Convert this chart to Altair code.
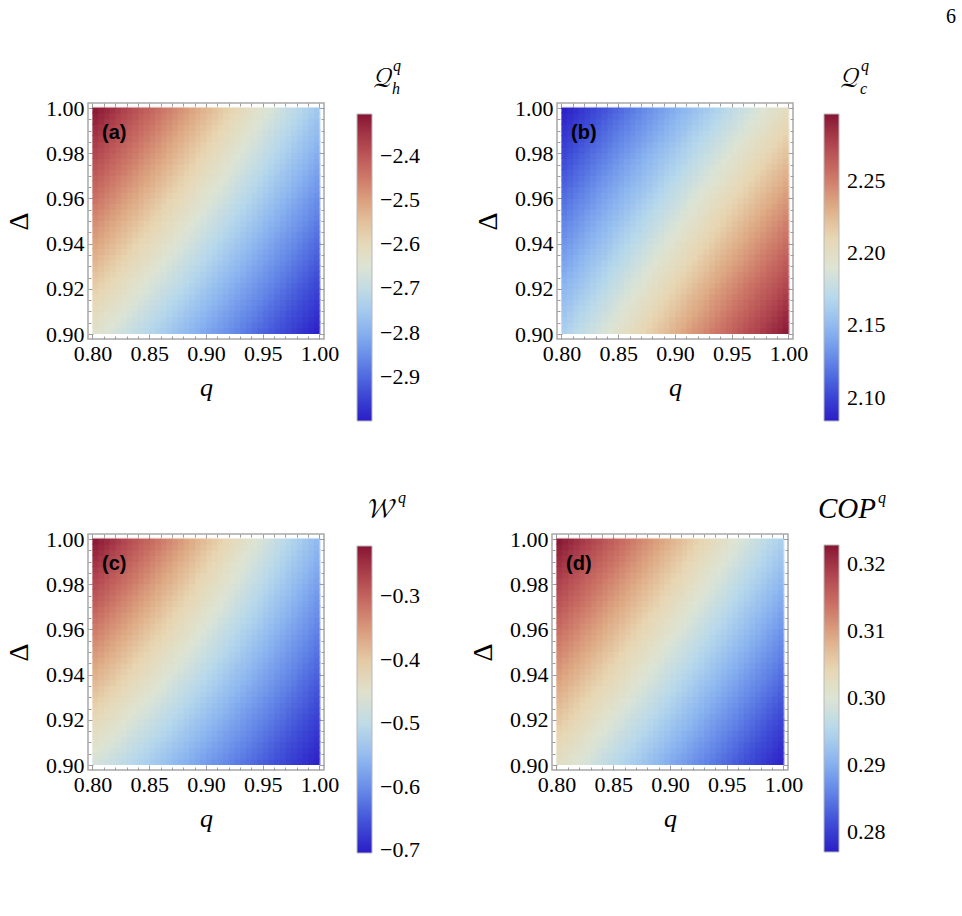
import altair as alt
import pandas as pd

SERIF = "Liberation Serif"
SANS = "Liberation Sans"
MATH = "Latin Modern Math, STIX Two Math, DejaVu Math TeX Gyre, DejaVu Serif, serif"

# grid nodes
q_vals = [0.80, 0.81, 0.82, 0.83, 0.84, 0.85, 0.86, 0.87, 0.88, 0.89, 0.90,
          0.91, 0.92, 0.93, 0.94, 0.95, 0.96, 0.97, 0.98, 0.99, 1.00]
delta_vals = [0.900, 0.905, 0.910, 0.915, 0.920, 0.925, 0.930, 0.935, 0.940, 0.945, 0.950,
              0.955, 0.960, 0.965, 0.970, 0.975, 0.980, 0.985, 0.990, 0.995, 1.000]

# one row per Delta (ascending), columns follow q_vals
qh_rows = [
    [-2.635, -2.653, -2.672, -2.690, -2.708, -2.726, -2.745, -2.763, -2.781, -2.799, -2.818, -2.836, -2.854, -2.872, -2.891, -2.909, -2.927, -2.945, -2.964, -2.982, -3.000],
    [-2.618, -2.637, -2.655, -2.674, -2.692, -2.711, -2.729, -2.748, -2.766, -2.785, -2.803, -2.822, -2.840, -2.859, -2.877, -2.896, -2.914, -2.933, -2.951, -2.970, -2.988],
    [-2.602, -2.621, -2.639, -2.658, -2.677, -2.696, -2.714, -2.733, -2.752, -2.770, -2.789, -2.808, -2.826, -2.845, -2.864, -2.883, -2.901, -2.920, -2.939, -2.957, -2.976],
    [-2.586, -2.604, -2.623, -2.642, -2.661, -2.680, -2.699, -2.718, -2.737, -2.756, -2.775, -2.794, -2.813, -2.832, -2.850, -2.869, -2.888, -2.907, -2.926, -2.945, -2.964],
    [-2.569, -2.588, -2.607, -2.626, -2.646, -2.665, -2.684, -2.703, -2.722, -2.741, -2.761, -2.780, -2.799, -2.818, -2.837, -2.856, -2.875, -2.895, -2.914, -2.933, -2.952],
    [-2.553, -2.572, -2.591, -2.611, -2.630, -2.649, -2.669, -2.688, -2.708, -2.727, -2.746, -2.766, -2.785, -2.804, -2.824, -2.843, -2.863, -2.882, -2.901, -2.921, -2.940],
    [-2.536, -2.556, -2.575, -2.595, -2.614, -2.634, -2.654, -2.673, -2.693, -2.712, -2.732, -2.752, -2.771, -2.791, -2.810, -2.830, -2.850, -2.869, -2.889, -2.908, -2.928],
    [-2.520, -2.539, -2.559, -2.579, -2.599, -2.619, -2.638, -2.658, -2.678, -2.698, -2.718, -2.738, -2.757, -2.777, -2.797, -2.817, -2.837, -2.857, -2.876, -2.896, -2.916],
    [-2.503, -2.523, -2.543, -2.563, -2.583, -2.603, -2.623, -2.643, -2.663, -2.683, -2.704, -2.724, -2.744, -2.764, -2.784, -2.804, -2.824, -2.844, -2.864, -2.884, -2.904],
    [-2.487, -2.507, -2.527, -2.547, -2.568, -2.588, -2.608, -2.628, -2.649, -2.669, -2.689, -2.710, -2.730, -2.750, -2.770, -2.791, -2.811, -2.831, -2.851, -2.872, -2.892],
    [-2.470, -2.491, -2.511, -2.532, -2.552, -2.573, -2.593, -2.614, -2.634, -2.655, -2.675, -2.696, -2.716, -2.737, -2.757, -2.778, -2.798, -2.819, -2.839, -2.860, -2.880],
    [-2.454, -2.474, -2.495, -2.516, -2.536, -2.557, -2.578, -2.599, -2.619, -2.640, -2.661, -2.681, -2.702, -2.723, -2.744, -2.764, -2.785, -2.806, -2.827, -2.847, -2.868],
    [-2.437, -2.458, -2.479, -2.500, -2.521, -2.542, -2.563, -2.584, -2.605, -2.626, -2.647, -2.667, -2.688, -2.709, -2.730, -2.751, -2.772, -2.793, -2.814, -2.835, -2.856],
    [-2.421, -2.442, -2.463, -2.484, -2.505, -2.526, -2.548, -2.569, -2.590, -2.611, -2.632, -2.653, -2.675, -2.696, -2.717, -2.738, -2.759, -2.780, -2.802, -2.823, -2.844],
    [-2.404, -2.425, -2.447, -2.468, -2.490, -2.511, -2.532, -2.554, -2.575, -2.597, -2.618, -2.639, -2.661, -2.682, -2.704, -2.725, -2.746, -2.768, -2.789, -2.811, -2.832],
    [-2.388, -2.409, -2.431, -2.452, -2.474, -2.496, -2.517, -2.539, -2.561, -2.582, -2.604, -2.625, -2.647, -2.669, -2.690, -2.712, -2.734, -2.755, -2.777, -2.798, -2.820],
    [-2.371, -2.393, -2.415, -2.437, -2.458, -2.480, -2.502, -2.524, -2.546, -2.568, -2.590, -2.611, -2.633, -2.655, -2.677, -2.699, -2.721, -2.742, -2.764, -2.786, -2.808],
    [-2.355, -2.377, -2.399, -2.421, -2.443, -2.465, -2.487, -2.509, -2.531, -2.553, -2.575, -2.597, -2.619, -2.641, -2.664, -2.686, -2.708, -2.730, -2.752, -2.774, -2.796],
    [-2.338, -2.360, -2.383, -2.405, -2.427, -2.449, -2.472, -2.494, -2.516, -2.539, -2.561, -2.583, -2.606, -2.628, -2.650, -2.672, -2.695, -2.717, -2.739, -2.762, -2.784],
    [-2.322, -2.344, -2.367, -2.389, -2.412, -2.434, -2.457, -2.479, -2.502, -2.524, -2.547, -2.569, -2.592, -2.614, -2.637, -2.659, -2.682, -2.704, -2.727, -2.749, -2.772],
    [-2.305, -2.328, -2.351, -2.373, -2.396, -2.419, -2.442, -2.464, -2.487, -2.510, -2.533, -2.555, -2.578, -2.601, -2.624, -2.646, -2.669, -2.692, -2.715, -2.737, -2.760],
]

qc_rows = [
    [2.164, 2.171, 2.177, 2.184, 2.190, 2.197, 2.204, 2.210, 2.217, 2.223, 2.230, 2.237, 2.243, 2.250, 2.256, 2.263, 2.270, 2.276, 2.283, 2.289, 2.296],
    [2.160, 2.167, 2.173, 2.180, 2.186, 2.193, 2.199, 2.206, 2.213, 2.219, 2.226, 2.232, 2.239, 2.245, 2.252, 2.259, 2.265, 2.272, 2.278, 2.285, 2.291],
    [2.156, 2.163, 2.169, 2.176, 2.182, 2.189, 2.195, 2.202, 2.208, 2.215, 2.221, 2.228, 2.234, 2.241, 2.247, 2.254, 2.261, 2.267, 2.274, 2.280, 2.287],
    [2.152, 2.158, 2.165, 2.172, 2.178, 2.185, 2.191, 2.198, 2.204, 2.211, 2.217, 2.224, 2.230, 2.237, 2.243, 2.250, 2.256, 2.263, 2.269, 2.276, 2.282],
    [2.148, 2.154, 2.161, 2.167, 2.174, 2.180, 2.187, 2.193, 2.200, 2.206, 2.213, 2.219, 2.226, 2.232, 2.239, 2.245, 2.252, 2.258, 2.264, 2.271, 2.277],
    [2.144, 2.150, 2.157, 2.163, 2.170, 2.176, 2.183, 2.189, 2.196, 2.202, 2.208, 2.215, 2.221, 2.228, 2.234, 2.241, 2.247, 2.253, 2.260, 2.266, 2.273],
    [2.140, 2.146, 2.153, 2.159, 2.166, 2.172, 2.178, 2.185, 2.191, 2.198, 2.204, 2.210, 2.217, 2.223, 2.230, 2.236, 2.242, 2.249, 2.255, 2.262, 2.268],
    [2.136, 2.142, 2.149, 2.155, 2.161, 2.168, 2.174, 2.181, 2.187, 2.193, 2.200, 2.206, 2.212, 2.219, 2.225, 2.232, 2.238, 2.244, 2.251, 2.257, 2.263],
    [2.132, 2.138, 2.145, 2.151, 2.157, 2.164, 2.170, 2.176, 2.183, 2.189, 2.195, 2.202, 2.208, 2.214, 2.221, 2.227, 2.233, 2.240, 2.246, 2.252, 2.259],
    [2.128, 2.134, 2.141, 2.147, 2.153, 2.160, 2.166, 2.172, 2.178, 2.185, 2.191, 2.197, 2.204, 2.210, 2.216, 2.223, 2.229, 2.235, 2.242, 2.248, 2.254],
    [2.124, 2.130, 2.137, 2.143, 2.149, 2.155, 2.162, 2.168, 2.174, 2.180, 2.187, 2.193, 2.199, 2.206, 2.212, 2.218, 2.224, 2.231, 2.237, 2.243, 2.250],
    [2.120, 2.126, 2.132, 2.139, 2.145, 2.151, 2.157, 2.164, 2.170, 2.176, 2.182, 2.189, 2.195, 2.201, 2.207, 2.214, 2.220, 2.226, 2.232, 2.239, 2.245],
    [2.116, 2.122, 2.128, 2.135, 2.141, 2.147, 2.153, 2.159, 2.166, 2.172, 2.178, 2.184, 2.191, 2.197, 2.203, 2.209, 2.215, 2.222, 2.228, 2.234, 2.240],
    [2.112, 2.118, 2.124, 2.131, 2.137, 2.143, 2.149, 2.155, 2.161, 2.168, 2.174, 2.180, 2.186, 2.192, 2.198, 2.205, 2.211, 2.217, 2.223, 2.229, 2.236],
    [2.108, 2.114, 2.120, 2.126, 2.133, 2.139, 2.145, 2.151, 2.157, 2.163, 2.169, 2.176, 2.182, 2.188, 2.194, 2.200, 2.206, 2.212, 2.219, 2.225, 2.231],
    [2.104, 2.110, 2.116, 2.122, 2.128, 2.135, 2.141, 2.147, 2.153, 2.159, 2.165, 2.171, 2.177, 2.183, 2.190, 2.196, 2.202, 2.208, 2.214, 2.220, 2.226],
    [2.100, 2.106, 2.112, 2.118, 2.124, 2.130, 2.136, 2.143, 2.149, 2.155, 2.161, 2.167, 2.173, 2.179, 2.185, 2.191, 2.197, 2.203, 2.209, 2.216, 2.222],
    [2.096, 2.102, 2.108, 2.114, 2.120, 2.126, 2.132, 2.138, 2.144, 2.150, 2.156, 2.163, 2.169, 2.175, 2.181, 2.187, 2.193, 2.199, 2.205, 2.211, 2.217],
    [2.092, 2.098, 2.104, 2.110, 2.116, 2.122, 2.128, 2.134, 2.140, 2.146, 2.152, 2.158, 2.164, 2.170, 2.176, 2.182, 2.188, 2.194, 2.200, 2.206, 2.212],
    [2.088, 2.094, 2.100, 2.106, 2.112, 2.118, 2.124, 2.130, 2.136, 2.142, 2.148, 2.154, 2.160, 2.166, 2.172, 2.178, 2.184, 2.190, 2.196, 2.202, 2.208],
    [2.084, 2.090, 2.096, 2.102, 2.108, 2.114, 2.120, 2.126, 2.132, 2.138, 2.144, 2.149, 2.155, 2.161, 2.167, 2.173, 2.179, 2.185, 2.191, 2.197, 2.203],
]

w_rows = [
    [-0.471, -0.483, -0.494, -0.506, -0.518, -0.529, -0.541, -0.553, -0.564, -0.576, -0.588, -0.599, -0.611, -0.622, -0.634, -0.646, -0.657, -0.669, -0.681, -0.692, -0.704],
    [-0.459, -0.470, -0.482, -0.494, -0.506, -0.518, -0.530, -0.542, -0.554, -0.566, -0.578, -0.589, -0.601, -0.613, -0.625, -0.637, -0.649, -0.661, -0.673, -0.685, -0.697],
    [-0.446, -0.458, -0.470, -0.483, -0.495, -0.507, -0.519, -0.531, -0.543, -0.555, -0.568, -0.580, -0.592, -0.604, -0.616, -0.628, -0.641, -0.653, -0.665, -0.677, -0.689],
    [-0.434, -0.446, -0.458, -0.471, -0.483, -0.496, -0.508, -0.520, -0.533, -0.545, -0.558, -0.570, -0.583, -0.595, -0.607, -0.620, -0.632, -0.645, -0.657, -0.670, -0.682],
    [-0.421, -0.434, -0.446, -0.459, -0.472, -0.484, -0.497, -0.510, -0.522, -0.535, -0.548, -0.560, -0.573, -0.586, -0.599, -0.611, -0.624, -0.637, -0.649, -0.662, -0.675],
    [-0.409, -0.421, -0.434, -0.447, -0.460, -0.473, -0.486, -0.499, -0.512, -0.525, -0.538, -0.551, -0.564, -0.577, -0.590, -0.603, -0.616, -0.628, -0.641, -0.654, -0.667],
    [-0.396, -0.409, -0.422, -0.436, -0.449, -0.462, -0.475, -0.488, -0.502, -0.515, -0.528, -0.541, -0.554, -0.568, -0.581, -0.594, -0.607, -0.620, -0.634, -0.647, -0.660],
    [-0.384, -0.397, -0.410, -0.424, -0.437, -0.451, -0.464, -0.478, -0.491, -0.505, -0.518, -0.531, -0.545, -0.558, -0.572, -0.585, -0.599, -0.612, -0.626, -0.639, -0.653],
    [-0.371, -0.385, -0.398, -0.412, -0.426, -0.440, -0.453, -0.467, -0.481, -0.494, -0.508, -0.522, -0.536, -0.549, -0.563, -0.577, -0.590, -0.604, -0.618, -0.631, -0.645],
    [-0.359, -0.372, -0.386, -0.400, -0.414, -0.428, -0.442, -0.456, -0.470, -0.484, -0.498, -0.512, -0.526, -0.540, -0.554, -0.568, -0.582, -0.596, -0.610, -0.624, -0.638],
    [-0.346, -0.360, -0.374, -0.389, -0.403, -0.417, -0.431, -0.446, -0.460, -0.474, -0.488, -0.502, -0.517, -0.531, -0.545, -0.559, -0.574, -0.588, -0.602, -0.616, -0.630],
    [-0.334, -0.348, -0.362, -0.377, -0.391, -0.406, -0.420, -0.435, -0.449, -0.464, -0.478, -0.493, -0.507, -0.522, -0.536, -0.551, -0.565, -0.580, -0.594, -0.609, -0.623],
    [-0.321, -0.336, -0.350, -0.365, -0.380, -0.395, -0.409, -0.424, -0.439, -0.454, -0.468, -0.483, -0.498, -0.513, -0.527, -0.542, -0.557, -0.572, -0.586, -0.601, -0.616],
    [-0.309, -0.324, -0.339, -0.353, -0.368, -0.383, -0.398, -0.413, -0.428, -0.443, -0.458, -0.473, -0.488, -0.503, -0.518, -0.533, -0.548, -0.563, -0.578, -0.593, -0.608],
    [-0.296, -0.311, -0.327, -0.342, -0.357, -0.372, -0.388, -0.403, -0.418, -0.433, -0.449, -0.464, -0.479, -0.494, -0.510, -0.525, -0.540, -0.555, -0.571, -0.586, -0.601],
    [-0.284, -0.299, -0.315, -0.330, -0.346, -0.361, -0.377, -0.392, -0.408, -0.423, -0.439, -0.454, -0.470, -0.485, -0.501, -0.516, -0.532, -0.547, -0.563, -0.578, -0.594],
    [-0.271, -0.287, -0.303, -0.318, -0.334, -0.350, -0.366, -0.381, -0.397, -0.413, -0.429, -0.444, -0.460, -0.476, -0.492, -0.508, -0.523, -0.539, -0.555, -0.571, -0.586],
    [-0.259, -0.275, -0.291, -0.307, -0.323, -0.339, -0.355, -0.371, -0.387, -0.403, -0.419, -0.435, -0.451, -0.467, -0.483, -0.499, -0.515, -0.531, -0.547, -0.563, -0.579],
    [-0.246, -0.262, -0.279, -0.295, -0.311, -0.327, -0.344, -0.360, -0.376, -0.393, -0.409, -0.425, -0.441, -0.458, -0.474, -0.490, -0.507, -0.523, -0.539, -0.555, -0.572],
    [-0.234, -0.250, -0.267, -0.283, -0.300, -0.316, -0.333, -0.349, -0.366, -0.382, -0.399, -0.415, -0.432, -0.449, -0.465, -0.482, -0.498, -0.515, -0.531, -0.548, -0.564],
    [-0.221, -0.238, -0.255, -0.271, -0.288, -0.305, -0.322, -0.339, -0.355, -0.372, -0.389, -0.406, -0.423, -0.439, -0.456, -0.473, -0.490, -0.507, -0.523, -0.540, -0.557],
]

cop_rows = [
    [0.3020, 0.3008, 0.2995, 0.2983, 0.2970, 0.2958, 0.2945, 0.2933, 0.2920, 0.2908, 0.2895, 0.2883, 0.2870, 0.2858, 0.2845, 0.2833, 0.2820, 0.2808, 0.2795, 0.2783, 0.2770],
    [0.3030, 0.3018, 0.3005, 0.2993, 0.2980, 0.2967, 0.2955, 0.2942, 0.2930, 0.2917, 0.2904, 0.2892, 0.2879, 0.2867, 0.2854, 0.2842, 0.2829, 0.2816, 0.2804, 0.2791, 0.2779],
    [0.3041, 0.3028, 0.3015, 0.3003, 0.2990, 0.2977, 0.2965, 0.2952, 0.2939, 0.2927, 0.2914, 0.2901, 0.2888, 0.2876, 0.2863, 0.2850, 0.2838, 0.2825, 0.2812, 0.2800, 0.2787],
    [0.3051, 0.3038, 0.3026, 0.3013, 0.3000, 0.2987, 0.2974, 0.2962, 0.2949, 0.2936, 0.2923, 0.2911, 0.2898, 0.2885, 0.2872, 0.2859, 0.2847, 0.2834, 0.2821, 0.2808, 0.2796],
    [0.3062, 0.3049, 0.3036, 0.3023, 0.3010, 0.2997, 0.2984, 0.2971, 0.2959, 0.2946, 0.2933, 0.2920, 0.2907, 0.2894, 0.2881, 0.2868, 0.2855, 0.2843, 0.2830, 0.2817, 0.2804],
    [0.3072, 0.3059, 0.3046, 0.3033, 0.3020, 0.3007, 0.2994, 0.2981, 0.2968, 0.2955, 0.2942, 0.2929, 0.2916, 0.2903, 0.2890, 0.2877, 0.2864, 0.2851, 0.2838, 0.2825, 0.2812],
    [0.3082, 0.3069, 0.3056, 0.3043, 0.3030, 0.3017, 0.3004, 0.2991, 0.2978, 0.2965, 0.2952, 0.2939, 0.2926, 0.2912, 0.2899, 0.2886, 0.2873, 0.2860, 0.2847, 0.2834, 0.2821],
    [0.3093, 0.3080, 0.3066, 0.3053, 0.3040, 0.3027, 0.3014, 0.3001, 0.2987, 0.2974, 0.2961, 0.2948, 0.2935, 0.2922, 0.2908, 0.2895, 0.2882, 0.2869, 0.2856, 0.2843, 0.2830],
    [0.3103, 0.3090, 0.3077, 0.3063, 0.3050, 0.3037, 0.3024, 0.3010, 0.2997, 0.2984, 0.2971, 0.2957, 0.2944, 0.2931, 0.2918, 0.2904, 0.2891, 0.2878, 0.2864, 0.2851, 0.2838],
    [0.3114, 0.3100, 0.3087, 0.3073, 0.3060, 0.3047, 0.3033, 0.3020, 0.3007, 0.2993, 0.2980, 0.2967, 0.2953, 0.2940, 0.2927, 0.2913, 0.2900, 0.2887, 0.2873, 0.2860, 0.2846],
    [0.3124, 0.3111, 0.3097, 0.3084, 0.3070, 0.3057, 0.3043, 0.3030, 0.3016, 0.3003, 0.2989, 0.2976, 0.2963, 0.2949, 0.2936, 0.2922, 0.2909, 0.2895, 0.2882, 0.2868, 0.2855],
    [0.3134, 0.3121, 0.3107, 0.3094, 0.3080, 0.3067, 0.3053, 0.3040, 0.3026, 0.3012, 0.2999, 0.2985, 0.2972, 0.2958, 0.2945, 0.2931, 0.2918, 0.2904, 0.2891, 0.2877, 0.2863],
    [0.3145, 0.3131, 0.3117, 0.3104, 0.3090, 0.3077, 0.3063, 0.3049, 0.3036, 0.3022, 0.3008, 0.2995, 0.2981, 0.2967, 0.2954, 0.2940, 0.2927, 0.2913, 0.2899, 0.2886, 0.2872],
    [0.3155, 0.3141, 0.3128, 0.3114, 0.3100, 0.3086, 0.3073, 0.3059, 0.3045, 0.3032, 0.3018, 0.3004, 0.2990, 0.2977, 0.2963, 0.2949, 0.2935, 0.2922, 0.2908, 0.2894, 0.2880],
    [0.3166, 0.3152, 0.3138, 0.3124, 0.3110, 0.3096, 0.3083, 0.3069, 0.3055, 0.3041, 0.3027, 0.3013, 0.3000, 0.2986, 0.2972, 0.2958, 0.2944, 0.2930, 0.2917, 0.2903, 0.2889],
    [0.3176, 0.3162, 0.3148, 0.3134, 0.3120, 0.3106, 0.3092, 0.3078, 0.3065, 0.3051, 0.3037, 0.3023, 0.3009, 0.2995, 0.2981, 0.2967, 0.2953, 0.2939, 0.2925, 0.2911, 0.2897],
    [0.3186, 0.3172, 0.3158, 0.3144, 0.3130, 0.3116, 0.3102, 0.3088, 0.3074, 0.3060, 0.3046, 0.3032, 0.3018, 0.3004, 0.2990, 0.2976, 0.2962, 0.2948, 0.2934, 0.2920, 0.2906],
    [0.3197, 0.3183, 0.3169, 0.3154, 0.3140, 0.3126, 0.3112, 0.3098, 0.3084, 0.3070, 0.3056, 0.3041, 0.3027, 0.3013, 0.2999, 0.2985, 0.2971, 0.2957, 0.2943, 0.2929, 0.2914],
    [0.3207, 0.3193, 0.3179, 0.3165, 0.3150, 0.3136, 0.3122, 0.3108, 0.3093, 0.3079, 0.3065, 0.3051, 0.3037, 0.3022, 0.3008, 0.2994, 0.2980, 0.2966, 0.2951, 0.2937, 0.2923],
    [0.3218, 0.3203, 0.3189, 0.3175, 0.3160, 0.3146, 0.3132, 0.3117, 0.3103, 0.3089, 0.3074, 0.3060, 0.3046, 0.3032, 0.3017, 0.3003, 0.2989, 0.2974, 0.2960, 0.2946, 0.2931],
    [0.3228, 0.3214, 0.3199, 0.3185, 0.3170, 0.3156, 0.3142, 0.3127, 0.3113, 0.3098, 0.3084, 0.3070, 0.3055, 0.3041, 0.3026, 0.3012, 0.2998, 0.2983, 0.2969, 0.2954, 0.2940],
]

# colour-bar limits and labels
qh_range = [-3.000, -2.305]
qc_range = [2.084, 2.296]
w_range = [-0.704, -0.221]
cop_range = [0.2770, 0.3228]
qh_ticks = [-2.9, -2.8, -2.7, -2.6, -2.5, -2.4]
qc_ticks = [2.10, 2.15, 2.20, 2.25]
w_ticks = [-0.7, -0.6, -0.5, -0.4, -0.3]
cop_ticks = [0.28, 0.29, 0.30, 0.31, 0.32]

q_major = [0.80, 0.85, 0.90, 0.95, 1.00]
d_major = [0.90, 0.92, 0.94, 0.96, 0.98, 1.00]
q_minor = [round(0.80 + 0.01 * k, 3) for k in range(21) if k % 5]
d_minor = [round(0.90 + 0.005 * k, 3) for k in range(21) if k % 4]

# thermometer-style diverging palette
PALETTE = ["#2b1dc7", "#4050d8", "#6488e8", "#8cb6f0", "#b6d8ec", "#dde4d4",
           "#e8d6b2", "#deaa84", "#cc7466", "#b24650", "#861533"]

FRAME = 236
INSET_X = 4.5
INSET_Y = 5.0
TICK = "#9c9c9c"

x_pad = (q_vals[-1] - q_vals[0]) * INSET_X / (FRAME - 2 * INSET_X)
y_pad = (delta_vals[-1] - delta_vals[0]) * INSET_Y / (FRAME - 2 * INSET_Y)
xs = alt.Scale(domain=[q_vals[0] - x_pad, q_vals[-1] + x_pad], nice=False, zero=False)
ys = alt.Scale(domain=[delta_vals[0] - y_pad, delta_vals[-1] + y_pad], nice=False, zero=False)

hq = (q_vals[1] - q_vals[0]) / 2
hd = (delta_vals[1] - delta_vals[0]) / 2


def grid_frame(rows):
    # each node owns the cell around it; cells overlap slightly so no seams show
    recs = []
    for i, d in enumerate(delta_vals):
        for j, q in enumerate(q_vals):
            recs.append({
                "q0": max(q - hq, q_vals[0]), "q1": min(q + 1.2 * hq, q_vals[-1]),
                "d0": max(d - hd, delta_vals[0]), "d1": min(d + 1.2 * hd, delta_vals[-1]),
                "v": rows[i][j],
            })
    return pd.DataFrame(recs)


def soft_frame(rows):
    # the same nodes, each spanning the mesh square to its upper right; drawn
    # half-transparent over the cells it softens the steps between them
    recs = []
    for i in range(len(delta_vals) - 1):
        for j in range(len(q_vals) - 1):
            recs.append({
                "q0": q_vals[j], "q1": q_vals[j + 1] + 0.2 * hq,
                "d0": delta_vals[i], "d1": delta_vals[i + 1] + 0.2 * hd,
                "v": rows[i][j],
            })
    return pd.DataFrame(recs)


def frame_axis(orient, values, size, labels=False, **extra):
    kw = dict(orient=orient, values=values, offset=-size, tickSize=size,
              tickColor=TICK, tickWidth=1, domain=False, grid=False, labels=labels)
    if labels:
        kw.update(format=".2f", labelFont=SERIF, labelFontSize=22, labelColor="black",
                  labelPadding=4, labelFlush=False, labelOverlap=False)
    kw.update(extra)
    return alt.Axis(**kw)


def text_layer(txt, x, y, size, font=SERIF, style="normal", weight="normal", align="left"):
    return alt.Chart(pd.DataFrame({"t": [txt]})).mark_text(
        font=font, fontSize=size, fontStyle=style, fontWeight=weight,
        align=align, baseline="alphabetic", color="black",
    ).encode(text="t:N", x=alt.value(x), y=alt.value(y))


def panel(rows, vrange, ticks, fmt, tag, lx, ly, title_layers):
    df = grid_frame(rows)
    lo, hi = vrange
    cs = alt.Scale(domain=[lo + (hi - lo) * k / 10 for k in range(11)], range=PALETTE,
                   interpolate="rgb", nice=False, zero=False)
    leg = alt.Legend(orient="none", legendX=lx, legendY=ly, direction="vertical", type="gradient",
                     gradientLength=307, gradientThickness=15, gradientStrokeColor="#b8b8b8",
                     gradientStrokeWidth=1, title=None, values=ticks, format=fmt,
                     labelFont=SERIF, labelFontSize=22, labelColor="black", labelOffset=8,
                     labelOverlap=False)

    ax_b = frame_axis("bottom", q_major, 5, labels=True, titleFont=SERIF, titleFontSize=26,
                      titleFontStyle="italic", titleFontWeight="normal", titleColor="black",
                      titlePadding=10)
    ax_l = frame_axis("left", d_major, 5, labels=True, titleFont=SERIF, titleFontSize=28,
                      titleFontWeight="normal", titleColor="black", titlePadding=12)

    heat = alt.Chart(df).mark_rect().encode(
        x=alt.X("q0:Q", scale=xs, axis=ax_b, title="q"),
        x2="q1",
        y=alt.Y("d0:Q", scale=ys, axis=ax_l, title="Δ"),
        y2="d1",
        fill=alt.Fill("v:Q", scale=cs, legend=leg),
    )
    soft = alt.Chart(soft_frame(rows)).mark_rect(fillOpacity=0.5).encode(
        x=alt.X("q0:Q", scale=xs, axis=None), x2="q1",
        y=alt.Y("d0:Q", scale=ys, axis=None), y2="d1",
        fill=alt.Fill("v:Q", scale=cs, legend=None),
    )

    def ghost(axx, axy):
        return alt.Chart(df).mark_rect(opacity=0).encode(
            x=alt.X("q0:Q", scale=xs, axis=axx, title=None), x2="q1",
            y=alt.Y("d0:Q", scale=ys, axis=axy, title=None), y2="d1",
        )

    g1 = ghost(frame_axis("top", q_major, 5), frame_axis("right", d_major, 5))
    g2 = ghost(frame_axis("bottom", q_minor, 3), frame_axis("left", d_minor, 3))
    g3 = ghost(frame_axis("top", q_minor, 3), frame_axis("right", d_minor, 3))

    label = text_layer(tag, 14, 36, 20, font=SANS, weight="bold")
    layers = [heat, soft, g1, g2, g3, label] + title_layers
    return alt.layer(*layers).resolve_axis(x="independent", y="independent").properties(
        width=FRAME, height=FRAME
    )


pa = panel(qh_rows, qh_range, qh_ticks, ".1f", "(a)", 269, 11, [
    text_layer("𝒬", 285, -16, 28, font=MATH),
    text_layer("q", 305, -32, 16, style="italic"),
    text_layer("h", 304, -9, 16, style="italic"),
])
pb = panel(qc_rows, qc_range, qc_ticks, ".2f", "(b)", 267, 11, [
    text_layer("𝒬", 283, -16, 28, font=MATH),
    text_layer("q", 304, -32, 16, style="italic"),
    text_layer("c", 303, -9, 16, style="italic"),
    text_layer("6", 394, -80, 20, align="center"),
])
pc = panel(w_rows, w_range, w_ticks, ".1f", "(c)", 269, 12, [
    text_layer("𝒲", 280, -16, 28, font=MATH),
    text_layer("q", 310, -31, 16, style="italic"),
])
pd_ = panel(cop_rows, cop_range, cop_ticks, ".2f", "(d)", 272, 11, [
    text_layer("COP", 266, -16, 29, style="italic"),
    text_layer("q", 326, -31, 16, style="italic"),
])

row1 = alt.hconcat(pa, pb, spacing=233, bounds="flush").resolve_scale(fill="independent")
row2 = alt.hconcat(pc, pd_, spacing=228, bounds="flush").resolve_scale(fill="independent")

# nested rows count as zero height under flush bounds, so the gap includes one panel height
chart = alt.vconcat(row1, row2, spacing=FRAME + 195, bounds="flush").resolve_scale(
    fill="independent"
).configure_view(
    stroke="#a8a8a8", strokeWidth=1.5
).configure_axis(
    labelFont=SERIF, titleFont=SERIF, titleFontWeight="normal"
).configure_legend(
    labelFont=SERIF
).configure_text(
    font=SERIF
).properties(
    background="white",
    padding={"left": 4, "top": 6, "right": 5, "bottom": 5},
)

chart.save("out.html", embed_options={"renderer": "svg", "actions": False})
